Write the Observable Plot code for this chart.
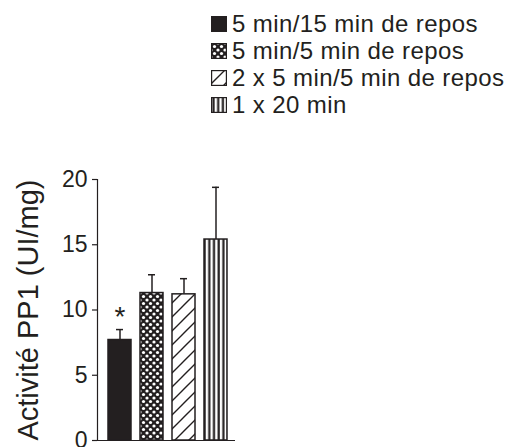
<!DOCTYPE html>
<html><head><meta charset="utf-8">
<script src="https://cdn.jsdelivr.net/npm/d3@7"></script>
<script src="https://cdn.jsdelivr.net/npm/@observablehq/plot@0.6"></script>
<style>
body{margin:0;background:#fff;font-family:"Liberation Sans",Arial,sans-serif;color:#231f20}
#legend{height:125px;box-sizing:border-box;padding-top:10px;padding-left:211px}
.row{display:flex;align-items:center;height:27px;font-size:24px;letter-spacing:0.4px;white-space:nowrap}
.row svg{margin-right:5px;flex:none}
</style></head><body>
<svg width="0" height="0" style="position:absolute">
<defs>
<pattern id="pat-solid" patternUnits="userSpaceOnUse" width="4" height="4"><rect width="4" height="4" fill="#231f20"/></pattern>
<pattern id="pat-cross" patternUnits="userSpaceOnUse" width="7" height="7">
<rect width="7" height="7" fill="#231f20"/>
<circle cx="3.5" cy="3.5" r="1.6" fill="#fff"/>
<circle cx="0" cy="0" r="1.6" fill="#fff"/><circle cx="7" cy="0" r="1.6" fill="#fff"/>
<circle cx="0" cy="7" r="1.6" fill="#fff"/><circle cx="7" cy="7" r="1.6" fill="#fff"/>
</pattern>
<pattern id="pat-diag" patternUnits="userSpaceOnUse" width="14" height="14">
<rect width="14" height="14" fill="#fff"/>
<path d="M-1,15 L15,-1 M-8,8 L8,-8 M6,22 L22,6" stroke="#231f20" stroke-width="1.4"/>
</pattern>
<pattern id="pat-vert" patternUnits="userSpaceOnUse" width="4.7" height="10">
<rect width="4.7" height="10" fill="#fff"/>
<rect x="1.4" width="2.2" height="10" fill="#231f20"/>
</pattern>
</defs>
</svg>
<div id="legend"></div>
<div id="chart"></div>
<script>
const categories = ["5 min/15 min de repos","5 min/5 min de repos","2 x 5 min/5 min de repos","1 x 20 min"];
const patterns = ["pat-solid","pat-cross","pat-diag","pat-vert"];
const values = [7.7, 11.3, 11.2, 15.4];
const errors = [0.8, 1.4, 1.2, 4.0];
const marks = ["*","","",""];
const yTicks = [0,5,10,15,20];
const yLabel = "Activité PP1 (UI/mg)";

const ink = "#231f20";
const data = categories.map((c,i) => ({cat:c, fill:`url(#${patterns[i]})`, v:values[i], top:values[i]+errors[i], mark:marks[i]}));

// legend
const lg = document.getElementById("legend");
data.forEach(d => {
  const row = document.createElement("div");
  row.className = "row";
  row.innerHTML = `<svg width="16" height="16"><rect x="0.6" y="0.6" width="14.8" height="14.8" fill="${d.fill}" stroke="${ink}" stroke-width="1.2"/></svg><span>${d.cat}</span>`;
  lg.appendChild(row);
});

const chart = Plot.plot({
  width: 515,
  height: 322,
  marginLeft: 97,
  marginRight: 280,
  marginTop: 54,
  marginBottom: 7,
  style: {fontFamily: "Liberation Sans, Arial, sans-serif", color: ink, background: "#fff", overflow: "visible"},
  x: {domain: categories, padding: 0.27, align: 0.6, axis: null},
  y: {domain: [0, 20], ticks: yTicks},
  color: {type: "identity"},
  marks: [
    Plot.ruleX(data, {x: "cat", y1: "v", y2: "top", stroke: ink, strokeWidth: 1.5}),
    Plot.tickY(data, {x: "cat", y: "top", stroke: ink, strokeWidth: 1.5, insetLeft: 8, insetRight: 8}),
    Plot.barY(data, {x: "cat", y: "v", fill: "fill", stroke: ink, strokeWidth: 1.5}),
    Plot.text(data, {x: "cat", y: "top", text: "mark", dy: -13, fontSize: 28, fill: ink}),
    Plot.axisY({ticks: yTicks, tickSize: 5, tickPadding: 5, fontSize: 23, label: null, stroke: ink, strokeWidth: 1.2, fill: ink}),
    Plot.ruleY([0], {stroke: ink, strokeWidth: 1.2}),
    Plot.frame({anchor: "left", stroke: ink, strokeWidth: 1.2}),
    Plot.text([yLabel], {frameAnchor: "left", textAnchor: "middle", rotate: -90, dx: -69, fontSize: 29, fill: ink})
  ]
});
document.getElementById("chart").appendChild(chart);
</script>
</body></html>
